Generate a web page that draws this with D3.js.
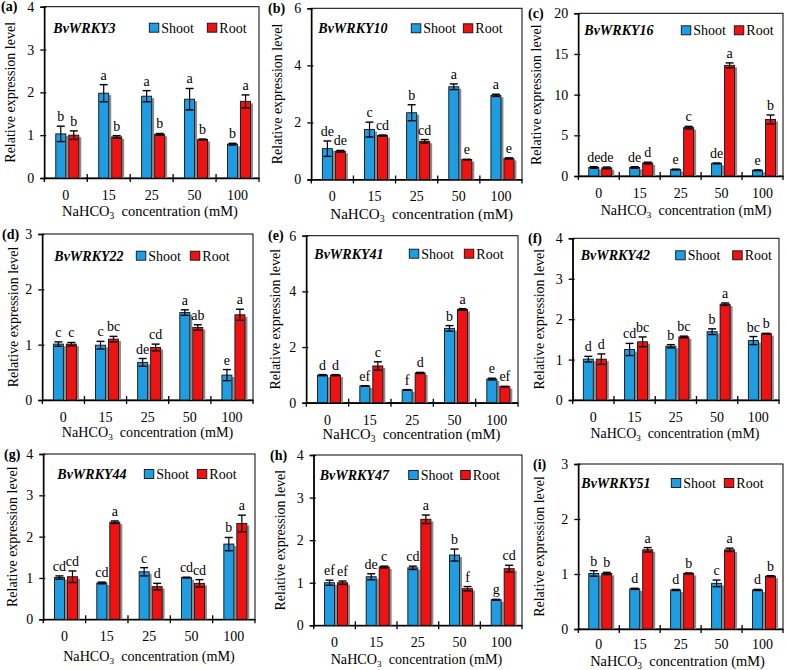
<!DOCTYPE html>
<html><head><meta charset="utf-8">
<script src="https://cdn.jsdelivr.net/npm/d3@7"></script>
<style>body{margin:0;background:#fff} svg{display:block}</style>
</head><body><svg id="c" width="786" height="670"></svg>
<script>
const categories = ["0","15","25","50","100"];
const genes = ["BvWRKY3","BvWRKY10","BvWRKY16","BvWRKY22","BvWRKY41","BvWRKY42","BvWRKY44","BvWRKY47","BvWRKY51"];
const panelTags = ["(a)","(b)","(c)","(d)","(e)","(f)","(g)","(h)","(i)"];
const seriesNames = ["Shoot","Root"];
const yMax = [4,6,20,3,6,4,4,4,3];
const yStep = [1,2,5,1,2,1,1,1,1];
const shootMean = [
 [1.03,1.98,1.91,1.84,0.79],
 [1.08,1.75,2.34,3.25,2.95],
 [1.05,1.05,0.8,1.55,0.7],
 [1.01,0.99,0.68,1.58,0.45],
 [0.99,0.6,0.46,2.67,0.85],
 [1.01,1.25,1.33,1.69,1.47],
 [1.01,0.88,1.15,1.01,1.82],
 [1.0,1.14,1.35,1.65,0.6],
 [1.01,0.73,0.71,0.83,0.71]
];
const shootErr = [
 [0.18,0.2,0.13,0.25,0.02],
 [0.27,0.26,0.28,0.1,0.04],
 [0.1,0.1,0.05,0.05,0.05],
 [0.04,0.07,0.07,0.05,0.1],
 [0.02,0.01,0.01,0.1,0.03],
 [0.07,0.15,0.04,0.07,0.1],
 [0.04,0.02,0.1,0.01,0.16],
 [0.06,0.07,0.04,0.14,0.01],
 [0.05,0.01,0.01,0.06,0.01]
];
const rootMean = [
 [1.0,0.96,1.02,0.9,1.79],
 [0.99,1.54,1.34,0.70,0.74],
 [1.0,1.6,5.95,13.6,6.95],
 [1.01,1.1,0.95,1.31,1.54],
 [0.99,1.32,1.07,3.35,0.58],
 [1.01,1.44,1.56,2.37,1.64],
 [1.03,2.35,0.79,0.87,2.32],
 [1.0,1.37,2.49,0.86,1.33],
 [1.01,1.44,1.01,1.44,0.96]
];
const rootErr = [
 [0.1,0.03,0.02,0.01,0.15],
 [0.03,0.02,0.06,0.01,0.02],
 [0.1,0.1,0.15,0.3,0.55],
 [0.03,0.05,0.06,0.05,0.1],
 [0.02,0.15,0.02,0.03,0.01],
 [0.13,0.12,0.02,0.03,0.01],
 [0.14,0.03,0.08,0.09,0.2],
 [0.04,0.02,0.1,0.05,0.08],
 [0.02,0.04,0.01,0.03,0.01]
];
const shootLetters = [
 ["b","a","a","a","b"],
 ["de","c","b","a","a"],
 ["de","de","e","de","e"],
 ["c","c","de","a","e"],
 ["d","ef","f","b","e"],
 ["d","cd","b","b","bc"],
 ["cd","cd","c","cd","b"],
 ["ef","de","cd","b","g"],
 ["b","d","d","c","d"]
];
const rootLetters = [
 ["b","b","b","b","a"],
 ["de","cd","cd","e","e"],
 ["de","d","c","a","b"],
 ["c","bc","cd","ab","a"],
 ["d","c","d","a","ef"],
 ["d","bc","bc","a","b"],
 ["cd","a","d","cd","a"],
 ["ef","c","a","f","cd"],
 ["b","a","b","a","b"]
];

// layout (pixels) per panel: plot box, title positions, legend offsets
const layout = [
 {l:44.3,r:259,t:6.7,b:178, yt:10, tagX:1, gx:9, gy:26, sx:105, rx:163, xt:215.5, xc:150, xw:176, tp:12},
 {l:311.3,r:522,t:8.3,b:179.5, yt:277, tagX:268, gx:7, gy:25, sx:100, rx:152, xt:218.5, xc:421.7, xw:183, tp:12},
 {l:578.3,r:783,t:13.3,b:176, yt:536, tagX:528, gx:6, gy:22, sx:103, rx:156, xt:215, xc:686, xw:171, tp:12},
 {l:42.3,r:253,t:234,b:400, yt:13, tagX:2, gx:12, gy:26.7, sx:94, rx:148, xt:436.5, xc:147.5, xw:171.5, tp:12},
 {l:306.3,r:518,t:235.7,b:402.7, yt:275, tagX:268, gx:8, gy:23, sx:103, rx:158, xt:439, xc:411.5, xw:178, tp:12},
 {l:572.7,r:779,t:238.3,b:400, yt:539, tagX:528, gx:8, gy:22, sx:103, rx:160, xt:437.5, xc:675, xw:169, tp:12},
 {l:43.3,r:255,t:454,b:619.3, yt:12, tagX:4, gx:14, gy:25, sx:101, rx:154, xt:661, xc:149, xw:172, tp:12},
 {l:313.7,r:522,t:455,b:625.3, yt:280, tagX:270, gx:6, gy:25, sx:95, rx:147, xt:663.5, xc:416.5, xw:172, tp:11.5},
 {l:578.3,r:783,t:464,b:629, yt:539, tagX:533, gx:3, gy:24, sx:93, rx:146, xt:666, xc:677.5, xw:175, tp:10.5}
];
const colors = ["#1e9de2","#ee1212"];
const FONT = 14;
const FAMILY = "Liberation Serif";

const svg = d3.select("#c");
svg.append("rect").attr("width",786).attr("height",670).attr("fill","#fff");

genes.forEach((gene,p)=>{
  const L = layout[p];
  const g = svg.append("g");
  const x = d3.scaleBand().domain(categories).range([L.l, L.r]).padding(0);
  const y = d3.scaleLinear().domain([0, yMax[p]]).range([L.b, L.t]);
  const ticks = d3.range(0, yMax[p] + yStep[p]/2, yStep[p]);

  // frame
  g.append("rect").attr("x",L.l).attr("y",L.t).attr("width",L.r-L.l).attr("height",L.b-L.t)
    .attr("fill","none").attr("stroke","#000").attr("stroke-width",1);

  // y axis
  const ya = g.append("g").attr("transform",`translate(${L.l},0)`)
    .call(d3.axisLeft(y).tickValues(ticks).tickSize(4).tickPadding(6).tickFormat(d3.format("d")));
  ya.select(".domain").attr("stroke-width",1.4);
  ya.selectAll(".tick line").attr("x1",2).attr("stroke-width",1.3);
  ya.selectAll(".tick text").attr("font-size",FONT);

  // x axis labels
  const xa = g.append("g").attr("transform",`translate(0,${L.b})`)
    .call(d3.axisBottom(x).tickSize(0).tickPadding(L.tp));
  xa.select(".domain").attr("stroke-width",1.4);
  xa.selectAll(".tick text").attr("font-size",FONT);
  // group separators
  const seps = d3.range(0, categories.length + 1).map(i => L.l + i * x.step());
  g.selectAll("line.sep").data(seps).join("line").attr("class","sep")
    .attr("x1",d=>d).attr("x2",d=>d).attr("y1",(d,i)=> (i===0||i===categories.length) ? L.b : L.b-4).attr("y2",L.b+4)
    .attr("stroke","#000").attr("stroke-width",1.3);

  // bars
  const bw = 10;
  const series = [
    {mean:shootMean[p], err:shootErr[p], lab:shootLetters[p], off:-10, col:colors[0]},
    {mean:rootMean[p], err:rootErr[p], lab:rootLetters[p], off:3, col:colors[1]}
  ];
  series.forEach(s=>{
    const data = categories.map((c,i)=>({c, v:s.mean[i], e:s.err[i], lab:s.lab[i]}));
    const cx = d => x(d.c) + x.bandwidth()/2 + s.off;
    // shadow
    g.selectAll(null).data(data).join("rect")
      .attr("x",d=>cx(d)+bw).attr("y",d=>y(d.v)+2).attr("width",2.5)
      .attr("height",d=>L.b - y(d.v) - 2).attr("fill","#8c8c8c");
    g.selectAll(null).data(data).join("rect")
      .attr("x",d=>cx(d)).attr("y",d=>y(d.v)).attr("width",bw)
      .attr("height",d=>L.b - y(d.v)).attr("fill",s.col)
      .attr("stroke","#111").attr("stroke-width",0.9);
    // error bars
    const eb = g.selectAll(null).data(data).join("g");
    eb.append("line").attr("x1",d=>cx(d)+bw/2).attr("x2",d=>cx(d)+bw/2)
      .attr("y1",d=>y(d.v-d.e)).attr("y2",d=>y(d.v+d.e)).attr("stroke","#000").attr("stroke-width",1.2);
    eb.append("line").attr("x1",d=>cx(d)+bw/2-4).attr("x2",d=>cx(d)+bw/2+4)
      .attr("y1",d=>y(d.v+d.e)).attr("y2",d=>y(d.v+d.e)).attr("stroke","#000").attr("stroke-width",1.4);
    eb.append("line").attr("x1",d=>cx(d)+bw/2-4).attr("x2",d=>cx(d)+bw/2+4)
      .attr("y1",d=>y(d.v-d.e)).attr("y2",d=>y(d.v-d.e)).attr("stroke","#000").attr("stroke-width",1.4);
    // letters
    g.selectAll(null).data(data).join("text")
      .attr("x",d=>cx(d)+bw/2).attr("y",d=>y(d.v+d.e)-5)
      .attr("text-anchor","middle").attr("font-size",FONT).text(d=>d.lab);
  });

  // gene label
  g.append("text").attr("x",L.l+L.gx).attr("y",L.t+L.gy)
    .attr("font-size",FONT).attr("font-weight","bold").attr("font-style","italic").text(gene);
  // legend
  [[L.sx,0],[L.rx,1]].forEach(([dx,k])=>{
    g.append("rect").attr("x",L.l+dx).attr("y",L.t+L.gy-9.5).attr("width",9.5).attr("height",9)
      .attr("fill",colors[k]).attr("stroke","#111").attr("stroke-width",0.9);
    g.append("text").attr("x",L.l+dx+12).attr("y",L.t+L.gy).attr("font-size",FONT).text(seriesNames[k]);
  });

  // panel tag
  g.append("text").attr("x",L.tagX).attr("y",L.t+4.5).attr("font-size",FONT).attr("font-weight","bold").text(panelTags[p]);

  // y title
  g.append("text").attr("transform",`translate(${L.yt + 4.5},${(L.t+L.b)/2}) rotate(-90)`)
    .attr("text-anchor","middle").attr("font-size",FONT).text("Relative expression level");

  // x title, scaled to the width seen in the reference
  const xt = g.append("text").attr("x",L.xc).attr("y",L.xt)
    .attr("text-anchor","middle").attr("font-size",14.5).style("font-family",FAMILY);
  xt.append("tspan").text("NaHCO");
  xt.append("tspan").attr("font-size",9.5).attr("dy",3).text("3");
  xt.append("tspan").attr("dy",-3).text("\u00a0 concentration (mM)");
  const w = xt.node().getComputedTextLength();
  if (w > 0) {
    const f = 14.5 * L.xw / w;
    xt.attr("font-size", f);
    xt.select("tspan:nth-child(2)").attr("font-size", f * 0.65);
  }
});
svg.selectAll("text").style("font-family",FAMILY).attr("fill","#000");
</script></body></html>
